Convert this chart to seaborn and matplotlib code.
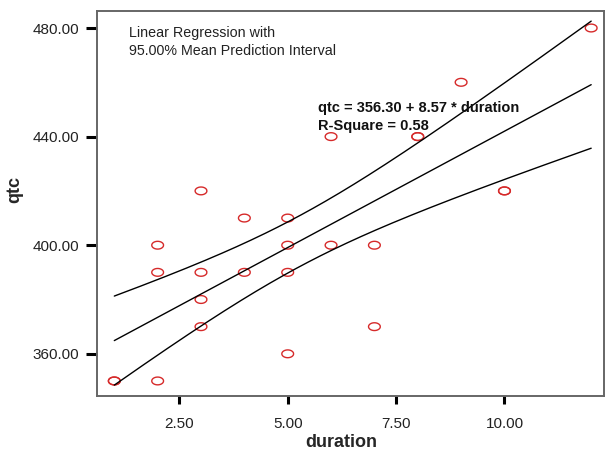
import numpy as np
import pandas as pd
import seaborn as sns
import matplotlib
matplotlib.use("Agg")
import matplotlib.pyplot as plt
from matplotlib.path import Path

duration = [1, 1, 2, 2, 2, 3, 3, 3, 3, 4, 4, 5, 5, 5, 5, 6, 6, 7, 7, 8, 8, 9, 10, 10, 12]
qtc = [350, 350, 350, 390, 400, 420, 390, 380, 370, 410, 390, 410, 400, 390, 360,
       440, 400, 400, 370, 440, 440, 460, 420, 420, 480]
x_ticks = [2.5, 5.0, 7.5, 10.0]
y_ticks = [360, 400, 440, 480]
title_text = "Linear Regression with\n95.00% Mean Prediction Interval"
eq_text = "qtc = 356.30 + 8.57 * duration\nR-Square = 0.58"

df = pd.DataFrame({"duration": duration, "qtc": qtc})

# least-squares fit and 95% interval for the mean
x = np.asarray(duration, float)
y = np.asarray(qtc, float)
n = len(x)
b1, b0 = np.polyfit(x, y, 1)
resid = y - (b0 + b1 * x)
s = np.sqrt(np.sum(resid ** 2) / (n - 2))
sxx = np.sum((x - x.mean()) ** 2)
tval = 2.069  # t(0.975, 23)
xg = np.linspace(x.min(), x.max(), 200)
fit = b0 + b1 * xg
half = tval * s * np.sqrt(1 / n + (xg - x.mean()) ** 2 / sxx)
band = pd.DataFrame({"x": np.concatenate([xg, xg, xg]),
                     "y": np.concatenate([fit, fit - half, fit + half]),
                     "k": ["fit"] * len(xg) + ["lo"] * len(xg) + ["hi"] * len(xg)})

sns.set_theme(style="white")
plt.rcParams["font.family"] = ["Liberation Sans", "DejaVu Sans"]

fig = plt.figure(figsize=(6.06, 4.54), dpi=100)
ax = fig.add_axes([0.160, 0.128, 0.837, 0.848])

theta = np.linspace(0, 2 * np.pi, 40)
ell = Path(np.column_stack([np.cos(theta), 0.66 * np.sin(theta)]))

sns.lineplot(data=band, x="x", y="y", units="k", estimator=None,
             color="black", linewidth=1.0, ax=ax, legend=False)
sns.scatterplot(data=df, x="duration", y="qtc", marker=ell, s=72,
                facecolor="none", edgecolor="#d62a2a", linewidth=1.0, ax=ax)

ax.set_xlim(0.6, 12.3)
ax.set_ylim(344.5, 486.3)
ax.set_xticks(x_ticks)
ax.set_yticks(y_ticks)
ax.set_xticklabels([f"{v:.2f}" for v in x_ticks])
ax.set_yticklabels([f"{v:.2f}" for v in y_ticks])
ax.tick_params(axis="x", which="major", direction="out", length=6, width=2.2,
               color="black", labelsize=11, labelcolor="#222222", pad=9,
               bottom=True)
ax.tick_params(axis="y", which="major", direction="out", length=8, width=2.2,
               color="black", labelsize=11, labelcolor="#222222", pad=5,
               left=True)
for sp in ax.spines.values():
    sp.set_color("#666666")
    sp.set_linewidth(1.4)

ax.set_xlabel("duration", fontsize=13, fontweight="bold")
ax.set_ylabel("qtc", fontsize=13, fontweight="bold")
ax.xaxis.set_label_coords((341 - 97) / (0.837 * 606), -0.098)
ax.yaxis.set_label_coords(-0.145, (396 - 190) / (0.848 * 454))

ax.text(0.064, 0.96, title_text,
        transform=ax.transAxes, ha="left", va="top", fontsize=10.3,
        color="#222222", linespacing=1.3)
ax.text(0.435, 0.765, eq_text,
        transform=ax.transAxes, ha="left", va="top", fontsize=10.5,
        fontweight="bold", color="#111111", linespacing=1.35)

fig.savefig("out.png", dpi=100)
